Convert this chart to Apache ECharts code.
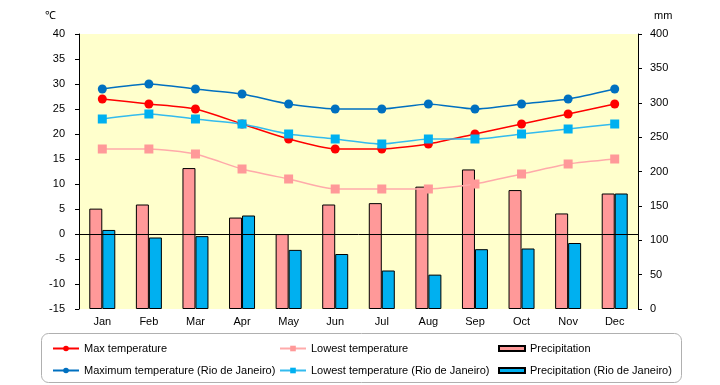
<!DOCTYPE html>
<html><head><meta charset="utf-8">
<script src="https://cdn.jsdelivr.net/npm/echarts@6/dist/echarts.min.js"></script>
<style>html,body{margin:0;padding:0;background:#fff}#c{width:720px;height:385px}</style>
</head><body><div id="c"></div>
<script>
var months = ['Jan','Feb','Mar','Apr','May','Jun','Jul','Aug','Sep','Oct','Nov','Dec'];
var maxTemp = [27,26,25,22,19,17,17,18,20,22,24,26];
var lowTemp = [17,17,16,13,11,9,9,9,10,12,14,15];
var maxTempRio = [29,30,29,28,26,25,25,26,25,26,27,29];
var lowTempRio = [23,24,23,22,20,19,18,19,19,20,21,22];
var precip = [146,152,205,133,109,152,154,178,203,173,139,168];
var precipRio = [115,104,106,136,86,80,56,50,87,88,96,168];
var tempTicks = {min:-15, max:40, interval:5};
var mmTicks = {min:0, max:400, interval:50};

var FONT = 'Liberation Sans';
var chart = echarts.init(document.getElementById('c'), null, {renderer:'canvas'});
var lblStyle = {color:'#000', fontSize:11, fontFamily:FONT};
function legend(left, data, ih){
  return {left:left, top:338, orient:'vertical', itemGap:11, itemWidth:26, itemHeight:ih,
    textStyle:{color:'#000', fontSize:11, fontFamily:FONT}, data:data, selectedMode:false};
}
chart.setOption({
  animation:false,
  grid:{left:79, right:82, top:34, bottom:76, show:true, backgroundColor:'#ffffcc', borderWidth:0},
  xAxis:{type:'category', data:months, axisLine:{show:false}, axisTick:{show:false},
    axisLabel:Object.assign({margin:7}, lblStyle)},
  yAxis:[
    {type:'value', min:tempTicks.min, max:tempTicks.max, interval:tempTicks.interval, position:'left',
     axisLine:{show:true, lineStyle:{color:'#000'}}, axisTick:{show:true, length:4, lineStyle:{color:'#000'}},
     splitLine:{show:false}, axisLabel:Object.assign({margin:14}, lblStyle)},
    {type:'value', min:mmTicks.min, max:mmTicks.max, interval:mmTicks.interval, position:'right',
     axisLine:{show:true, lineStyle:{color:'#000'}}, axisTick:{show:true, length:4, lineStyle:{color:'#000'}},
     splitLine:{show:false}, axisLabel:Object.assign({margin:12}, lblStyle)}
  ],
  legend:[
    legend(47, ['Max temperature','Maximum temperature (Rio de Janeiro)'], 7),
    legend(274, ['Lowest temperature','Lowest temperature (Rio de Janeiro)'], 7),
    legend(493, [{name:'Precipitation', icon:'rect'},{name:'Precipitation (Rio de Janeiro)', icon:'rect'}], 5)
  ],
  graphic:[
    {type:'rect', shape:{x:41.5, y:333.5, width:640, height:49, r:7}, style:{fill:'none', stroke:'#b0b0b0', lineWidth:1}},
    {type:'text', left:45, top:10, style:{text:'℃', fill:'#000', font:'11px '+FONT}},
    {type:'text', left:654, top:10, style:{text:'mm', fill:'#000', font:'11px '+FONT}}
  ],
  series:[
    {name:'Precipitation', type:'bar', yAxisIndex:1, data:precip, barWidth:13, barGap:'0%',
     itemStyle:{color:'#ff9999', borderColor:'#000', borderWidth:1}},
    {name:'Precipitation (Rio de Janeiro)', type:'bar', yAxisIndex:1, data:precipRio, barWidth:13, barGap:'0%',
     itemStyle:{color:'#00b0f0', borderColor:'#000', borderWidth:1},
     markLine:{silent:true, symbol:'none', label:{show:false}, lineStyle:{color:'#000', type:'solid', width:1},
       data:[{yAxis:109}]}},
    {name:'Max temperature', type:'line', data:maxTemp, smooth:0.2, symbol:'circle', symbolSize:9,
     itemStyle:{color:'#ff0000'}, lineStyle:{color:'#ff0000', width:1.5}},
    {name:'Lowest temperature', type:'line', data:lowTemp, smooth:0.2, symbol:'rect', symbolSize:9,
     itemStyle:{color:'#ff9999'}, lineStyle:{color:'#ffaaaa', width:1.5}},
    {name:'Maximum temperature (Rio de Janeiro)', type:'line', data:maxTempRio, smooth:0.2, symbol:'circle', symbolSize:9,
     itemStyle:{color:'#0070c0'}, lineStyle:{color:'#0070c0', width:1.5}},
    {name:'Lowest temperature (Rio de Janeiro)', type:'line', data:lowTempRio, smooth:0.2, symbol:'rect', symbolSize:9,
     itemStyle:{color:'#00b0f0'}, lineStyle:{color:'#33bbee', width:1.5}}
  ]
});
</script></body></html>
